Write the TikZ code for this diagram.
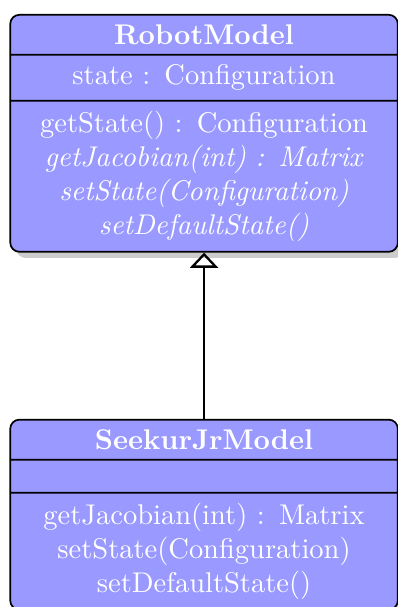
\documentclass[tikz,border=0pt]{standalone}
\usetikzlibrary{shapes.multipart,shadows,positioning,arrows.meta}

\begin{document}
\begin{tikzpicture}[
    umlclass/.style={rectangle split, rectangle split parts=3, draw, semithick,
      rounded corners=3.2pt, fill=blue!40, text=white, drop shadow={opacity=0.4},
      text width=117pt, align=center, inner xsep=9.5pt, inner ysep=3.2pt},
    inherit/.style={thick, -{Triangle[open, length=5.3pt, width=9.8pt]}}]
  \useasboundingbox (0,0) rectangle (139.65pt,-213pt);

  \node[umlclass, anchor=north] (robot) at (71.6pt,-4.9pt) {\textbf{RobotModel}
    \nodepart{second} state : Configuration
    \nodepart{third} getState() : Configuration\\
    \textit{getJacobian(int) : Matrix}\\
    \textit{setState(Configuration)}\\
    \textit{setDefaultState()}};

  \node[umlclass, below=58.3pt of robot] (seekur) {\textbf{SeekurJrModel}
    \nodepart{second} \rule{0pt}{4.6pt}
    \nodepart{third} getJacobian(int) : Matrix\\
    setState(Configuration)\\
    setDefaultState()};

  \draw[inherit] (seekur.north) -- (robot.south);

\end{tikzpicture}
\end{document}
